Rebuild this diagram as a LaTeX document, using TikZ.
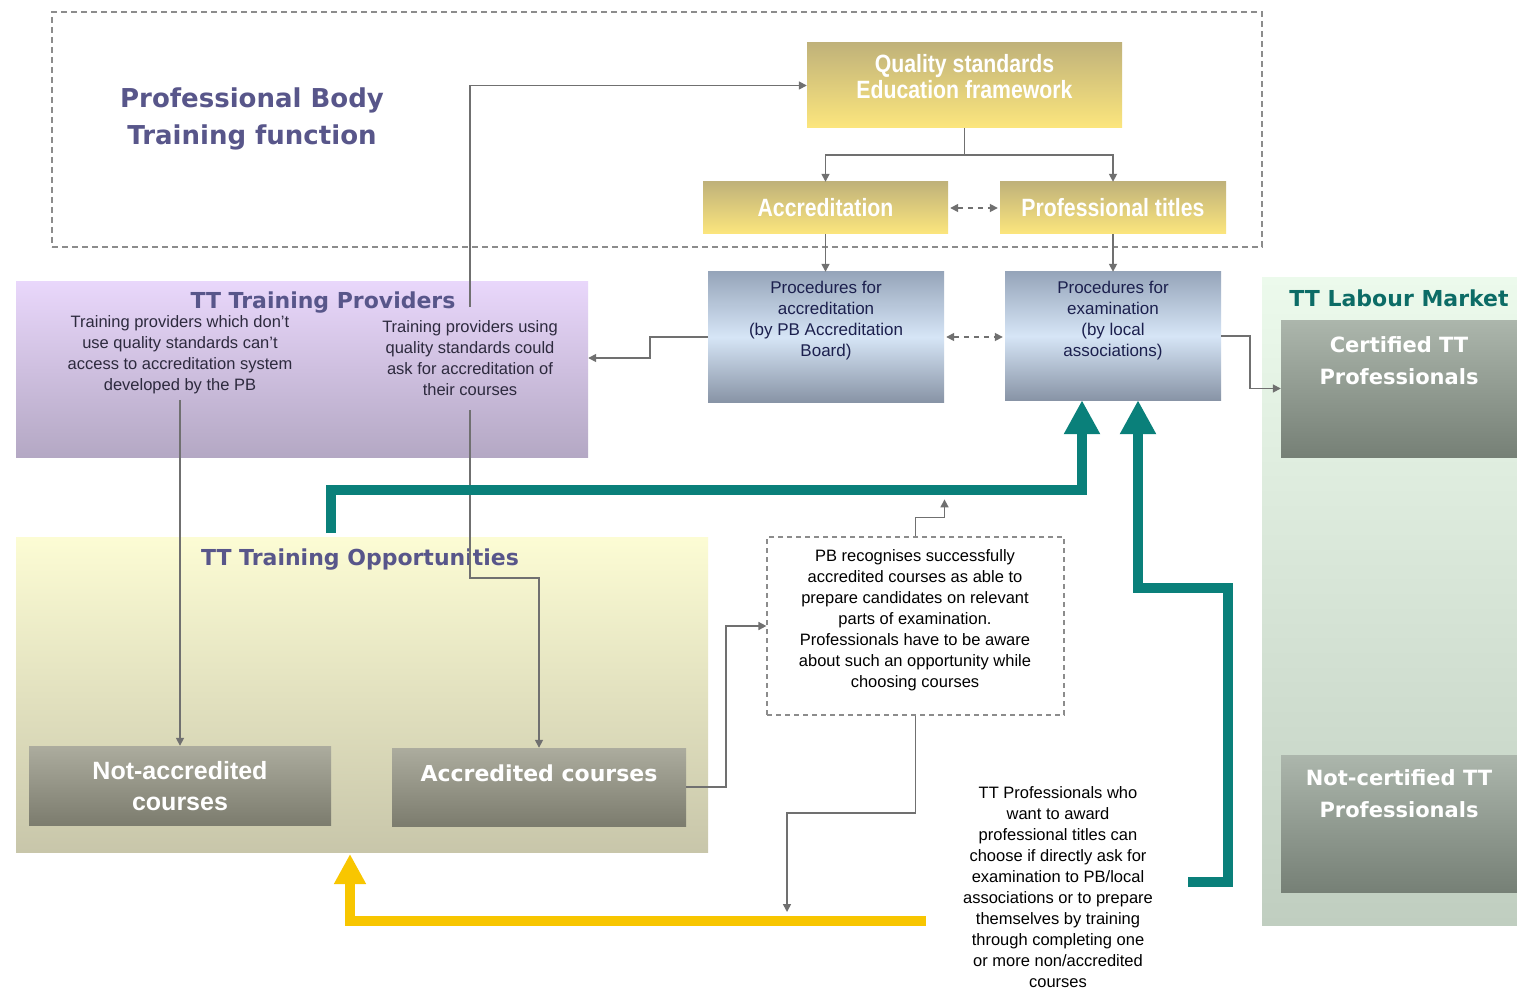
\documentclass[tikz,border=0pt]{standalone}
\usepackage{fontspec}
\setmainfont{Liberation Sans}
\newfontfamily\titlefont{DejaVu Sans}
\newfontfamily\narrowfont[FakeStretch=0.85]{Liberation Sans}
\usetikzlibrary{arrows.meta}
\definecolor{slate}{RGB}{88,86,138}
\definecolor{tealA}{RGB}{10,128,122}
\definecolor{tealT}{RGB}{12,108,102}
\definecolor{goldA}{RGB}{248,198,0}
\definecolor{lineg}{RGB}{112,112,112}
\definecolor{navyT}{RGB}{28,32,78}
\definecolor{darkT}{RGB}{45,42,62}
\tikzset{
  gtip/.tip={Triangle[width=8pt,length=8pt]},
  conn/.style={draw=lineg, line width=1.6pt, -gtip},
  plain/.style={draw=lineg, line width=1.6pt},
  dconn/.style={draw=lineg, line width=1.6pt, dash pattern=on 5pt off 5pt, gtip-gtip, shorten <=2pt, shorten >=2pt},
  tarrow/.style={draw=tealA, line width=10pt, -{Triangle[width=34pt,length=34pt]}},
  yarrow/.style={draw=goldA, line width=10pt, -{Triangle[width=30pt,length=30pt]}},
  goldtext/.style={text=white, font=\narrowfont\bfseries\fontsize{25}{26}\selectfont, align=center, inner sep=0pt},
  goldbox/.style={rectangle, draw=none, top color={rgb,255:red,192;green,178;blue,122}, bottom color={rgb,255:red,252;green,230;blue,125}, goldtext},
  procbox/.style={rectangle, draw=none, top color={rgb,255:red,150;green,165;blue,186}, bottom color={rgb,255:red,136;green,148;blue,166}, middle color={rgb,255:red,214;green,229;blue,246}, inner sep=0pt},
  grayboxA/.style={rectangle, draw=none, top color={rgb,255:red,172;green,172;blue,158}, bottom color={rgb,255:red,124;green,124;blue,110}, inner sep=0pt},
  grayboxB/.style={rectangle, draw=none, top color={rgb,255:red,172;green,182;blue,172}, bottom color={rgb,255:red,118;green,128;blue,118}, inner sep=0pt},
  smalltext/.style={align=center, inner sep=0pt, font=\fontsize{16.5}{21}\selectfont},
  areatitle/.style={inner sep=0pt, font=\titlefont\bfseries\fontsize{22}{26}\selectfont, text=slate},
  whitebig/.style={inner sep=0pt, align=center, text=white, font=\titlefont\bfseries\fontsize{21}{32}\selectfont},
}
\begin{document}
\begin{tikzpicture}[x=1pt,y=-1pt]
\useasboundingbox (0,0) rectangle (1517,992);
\fill[white] (0,0) rectangle (1517,992);

% Labour market area
\node[rectangle, draw=none, minimum width=255pt, minimum height=648pt, inner sep=0pt,
  top color={rgb,255:red,236;green,250;blue,236}, bottom color={rgb,255:red,192;green,206;blue,192}] (lm) at (1389.5,601) {};
\node[areatitle, text=tealT] (lmtitle) at (1399,298) {TT Labour Market};
\node[grayboxB, minimum width=236pt, minimum height=137pt] (cert) at (1399,388.5) {};
\node[whitebig] (certtext) at (1399,361) {Certified TT\\Professionals};
\node[grayboxB, minimum width=236pt, minimum height=137pt] (ncert) at (1399,823.5) {};
\node[whitebig] (ncerttext) at (1399,794) {Not-certified TT\\Professionals};

% Professional body area
\node[rectangle, draw={rgb,255:red,140;green,140;blue,140}, line width=1.2pt, dash pattern=on 6pt off 4pt, minimum width=1210pt, minimum height=235pt, inner sep=0pt] (pb) at (657,129.5) {};
\node[align=center, inner sep=0pt, text=slate, font=\titlefont\bfseries\fontsize{26}{37}\selectfont] (pbtitle) at (252,119) {Professional Body\\Training function};

\node[goldbox, minimum width=315pt, minimum height=85pt] (qs) at (964.5,85.5) {};
\node[goldtext] (qstext) at (964.5,77) {Quality standards\\Education framework};
\node[goldbox, minimum width=245pt, minimum height=52pt] (acc) at (825.5,208) {Accreditation};
\node[goldbox, minimum width=226pt, minimum height=52pt] (pt) at (1113,208) {Professional titles};

% Procedures
\node[procbox, minimum width=236pt, minimum height=130pt] (pacc) at (826,337) {};
\node[smalltext, text=navyT, font=\fontsize{17}{21}\selectfont] (pacctext) at (826,321) {Procedures for\\accreditation\\(by PB Accreditation\\Board)};
\node[procbox, minimum width=216pt, minimum height=128pt] (pexam) at (1113,336) {};
\node[smalltext, text=navyT, font=\fontsize{17}{21}\selectfont] (pexamtext) at (1113,321) {Procedures for\\examination\\(by local\\associations)};

% Training providers
\node[rectangle, draw=none, minimum width=572pt, minimum height=176pt, inner sep=0pt,
  top color={rgb,255:red,233;green,215;blue,251}, bottom color={rgb,255:red,180;green,168;blue,196}] (prov) at (302,369) {};
\node[areatitle] (provtitle) at (323,303) {TT Training Providers};
\node[smalltext, text=darkT] (provL) at (180,355) {Training providers which don't\\use quality standards can't\\access to accreditation system\\developed by the PB};
\node[smalltext, text=darkT] (provR) at (470,358) {Training providers using\\quality standards could\\ask for accreditation of\\their courses};

% Training opportunities
\node[rectangle, draw=none, minimum width=692pt, minimum height=315pt, inner sep=0pt,
  top color={rgb,255:red,252;green,252;blue,212}, bottom color={rgb,255:red,200;green,198;blue,170}] (opp) at (362,694.5) {};
\node[areatitle] (opptitle) at (360,560) {TT Training Opportunities};
\node[grayboxA, minimum width=302pt, minimum height=79pt] (nac) at (180,785.5) {};
\node[inner sep=0pt, align=center, text=white, font=\bfseries\fontsize{25}{31}\selectfont] (nactext) at (180,786) {Not-accredited\\courses};
\node[grayboxA, minimum width=294pt, minimum height=78pt] (ac) at (539,787) {};
\node[inner sep=0pt, text=white, font=\titlefont\bfseries\fontsize{22}{26}\selectfont] (actext) at (539,773) {Accredited courses};

% Note box
\node[rectangle, fill=white, draw={rgb,255:red,140;green,140;blue,140}, line width=1.2pt, dash pattern=on 5pt off 4pt, minimum width=297pt, minimum height=178pt, inner sep=0pt] (note) at (915.5,626) {};
\node[smalltext] (notetext) at (915,620) {PB recognises successfully\\accredited courses as able to\\prepare candidates on relevant\\parts of examination.\\Professionals have to be aware\\about such an opportunity while\\choosing courses};

% Bottom text
\node[smalltext] (btext) at (1058,887.5) {TT Professionals who\\want to award\\professional titles can\\choose if directly ask for\\examination to PB/local\\associations or to prepare\\themselves by training\\through completing one\\or more non/accredited\\courses};

% ---- connectors ----
\coordinate (qsj) at (964.5,155);
\draw[plain] (qs.south) -- (qsj);
\draw[conn] (qsj) -| (acc.north);
\draw[conn] (qsj) -| (pt.north);
\draw[dconn] (acc.east) -- (pt.west);
\draw[conn] (acc.south) -- (acc.south |- pacc.north);
\draw[conn] (pt.south) -- (pt.south |- pexam.north);
\draw[dconn] (pacc.east) -- (pacc.east -| pexam.west);
\draw[conn] (pacc.west) -- ++(-58,0) |- ([yshift=11pt]prov.east);
\draw[conn] (pexam.east) -- ++(29,0) |- (cert.west);

\coordinate (provup) at (470,307);
\draw[conn] (provup) |- (qs.west);
\coordinate (provLd) at (180,400);
\draw[conn] (provLd) -- (nac.north);
\coordinate (provRd) at (470,410);
\coordinate (provRb) at (470,578);
\draw[conn] (provRd) -- (provRb) -| (ac.north);

\draw[conn] (ac.east) -- ++(40,0) |- (note.west);
\draw[conn] (note.north) -- ++(0,-19) -- ++(29,0) -- ++(0,-18);
\coordinate (nb) at (915.5,813);
\coordinate (nbe) at (787,912);
\draw[conn] (note.south) -- (nb) -| (nbe);

% thick arrows
\coordinate (ys) at (926,921);
\coordinate (yc) at (350,921);
\coordinate (ye) at (350,854);
\draw[yarrow] (ys) -- (yc) -- (ye);

\coordinate (t1s) at (331,533);
\coordinate (t1c) at (331,490);
\draw[tarrow] (t1s) -- (t1c) -| ([xshift=-31pt]pexam.south);

\coordinate (t2s) at (1188,882);
\coordinate (t2a) at (1228,882);
\coordinate (t2b) at (1228,588);
\draw[tarrow] (t2s) -- (t2a) -- (t2b) -| ([xshift=25pt]pexam.south);
\end{tikzpicture}
\end{document}
